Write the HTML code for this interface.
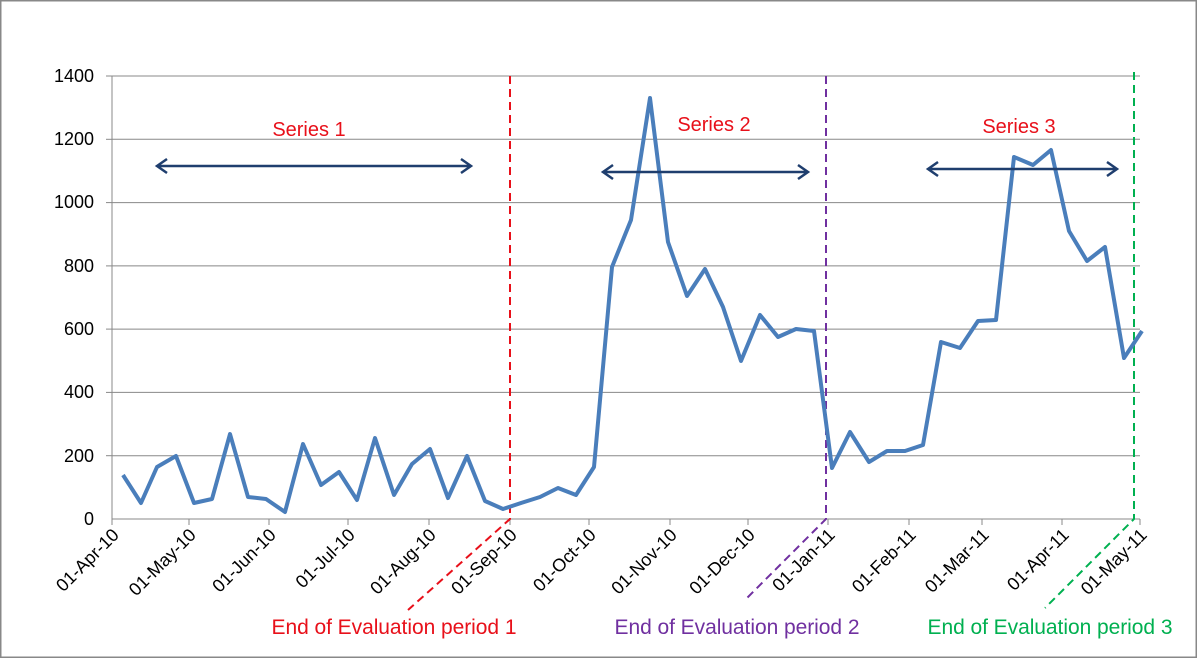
<!DOCTYPE html><html><head><style>body{margin:0;background:#fff}svg{display:block}text{font-family:"Liberation Sans",sans-serif}</style></head><body>
<svg width="1197" height="658" viewBox="0 0 1197 658">
<rect x="0.5" y="0.5" width="1196" height="657" fill="#fff" stroke="#888" stroke-width="2"/>
<g stroke="#888" stroke-width="1">
<line x1="112" y1="76" x2="1140" y2="76"/><line x1="112" y1="139.3" x2="1140" y2="139.3"/><line x1="112" y1="202.6" x2="1140" y2="202.6"/><line x1="112" y1="265.9" x2="1140" y2="265.9"/><line x1="112" y1="329.1" x2="1140" y2="329.1"/><line x1="112" y1="392.4" x2="1140" y2="392.4"/><line x1="112" y1="455.7" x2="1140" y2="455.7"/><line x1="112" y1="519" x2="1140" y2="519"/>
<line x1="112" y1="76" x2="112" y2="519"/>
<g><line x1="106" y1="76" x2="112" y2="76"/><line x1="106" y1="139.3" x2="112" y2="139.3"/><line x1="106" y1="202.6" x2="112" y2="202.6"/><line x1="106" y1="265.9" x2="112" y2="265.9"/><line x1="106" y1="329.1" x2="112" y2="329.1"/><line x1="106" y1="392.4" x2="112" y2="392.4"/><line x1="106" y1="455.7" x2="112" y2="455.7"/></g>
<g><line x1="112" y1="519" x2="112" y2="525"/><line x1="189" y1="519" x2="189" y2="525"/><line x1="269" y1="519" x2="269" y2="525"/><line x1="348" y1="519" x2="348" y2="525"/><line x1="429" y1="519" x2="429" y2="525"/><line x1="510" y1="519" x2="510" y2="525"/><line x1="589" y1="519" x2="589" y2="525"/><line x1="670" y1="519" x2="670" y2="525"/><line x1="748" y1="519" x2="748" y2="525"/><line x1="828" y1="519" x2="828" y2="525"/><line x1="909" y1="519" x2="909" y2="525"/><line x1="982" y1="519" x2="982" y2="525"/><line x1="1062" y1="519" x2="1062" y2="525"/><line x1="1140" y1="519" x2="1140" y2="525"/></g>
</g>
<g font-size="18" fill="#000" text-anchor="end">
<text x="94" y="82">1400</text><text x="94" y="145">1200</text><text x="94" y="208">1000</text><text x="94" y="272">800</text><text x="94" y="335">600</text><text x="94" y="398">400</text><text x="94" y="462">200</text><text x="94" y="525">0</text>
</g>
<g font-size="18" fill="#000" text-anchor="end">
<text transform="translate(120,536) rotate(-45)">01-Apr-10</text>
<text transform="translate(197,536) rotate(-45)">01-May-10</text>
<text transform="translate(277,536) rotate(-45)">01-Jun-10</text>
<text transform="translate(356,536) rotate(-45)">01-Jul-10</text>
<text transform="translate(437,536) rotate(-45)">01-Aug-10</text>
<text transform="translate(518,536) rotate(-45)">01-Sep-10</text>
<text transform="translate(597,536) rotate(-45)">01-Oct-10</text>
<text transform="translate(678,536) rotate(-45)">01-Nov-10</text>
<text transform="translate(756,536) rotate(-45)">01-Dec-10</text>
<text transform="translate(836,536) rotate(-45)">01-Jan-11</text>
<text transform="translate(917,536) rotate(-45)">01-Feb-11</text>
<text transform="translate(990,536) rotate(-45)">01-Mar-11</text>
<text transform="translate(1070,536) rotate(-45)">01-Apr-11</text>
<text transform="translate(1148,536) rotate(-45)">01-May-11</text>
</g>
<g stroke-width="2" stroke-dasharray="8,5" fill="none">
<path d="M510 76V519L408 610" stroke="#e8101a"/>
<path d="M826 76V519L745 600" stroke="#7030a0"/>
<path d="M1134 72V519L1045 608" stroke="#00b050"/>
</g>
<polyline fill="none" stroke="#4a7ebb" stroke-width="4" stroke-linejoin="round" points="123,475 141,503 157,467 176,456 194,503 212,499 230,434 248,497 266,499 285,512 303,444 321,485 339,472 357,500 375,438 394,495 412,464 430,449 448,498 467,456 485,501 503,509 521,503 540,497 558,488 576,495 594,467 612,267 631,220 650,98 668,242 687,296 705,269 723,307 741,361 760,315 778,337 796,329 814,331 832,468 850,432 869,462 887,451 905,451 923,445 941,342 960,348 978,321 996,320 1014,157 1033,165 1051,150 1069,231 1087,261 1105,247 1124,358 1142,331"/>
<g stroke="#1f3e6e" stroke-width="2.5" fill="none">
<path d="M157 166H471M167 159l-10 7 10 7M461 159l10 7-10 7"/>
<path d="M603 172H808M613 165l-10 7 10 7M798 165l10 7-10 7"/>
<path d="M928 169H1117M938 162l-10 7 10 7M1107 162l10 7-10 7"/>
</g>
<g font-size="20" text-anchor="middle">
<text x="309" y="136" fill="#e8101a">Series 1</text>
<text x="714" y="131" fill="#e8101a">Series 2</text>
<text x="1019" y="133" fill="#e8101a">Series 3</text>
</g>
<g font-size="21" text-anchor="middle">
<text x="394" y="634" fill="#e8101a" textLength="245">End of Evaluation period 1</text>
<text x="737" y="634" fill="#7030a0" textLength="245">End of Evaluation period 2</text>
<text x="1050" y="634" fill="#00b050" textLength="245">End of Evaluation period 3</text>
</g>
</svg></body></html>
